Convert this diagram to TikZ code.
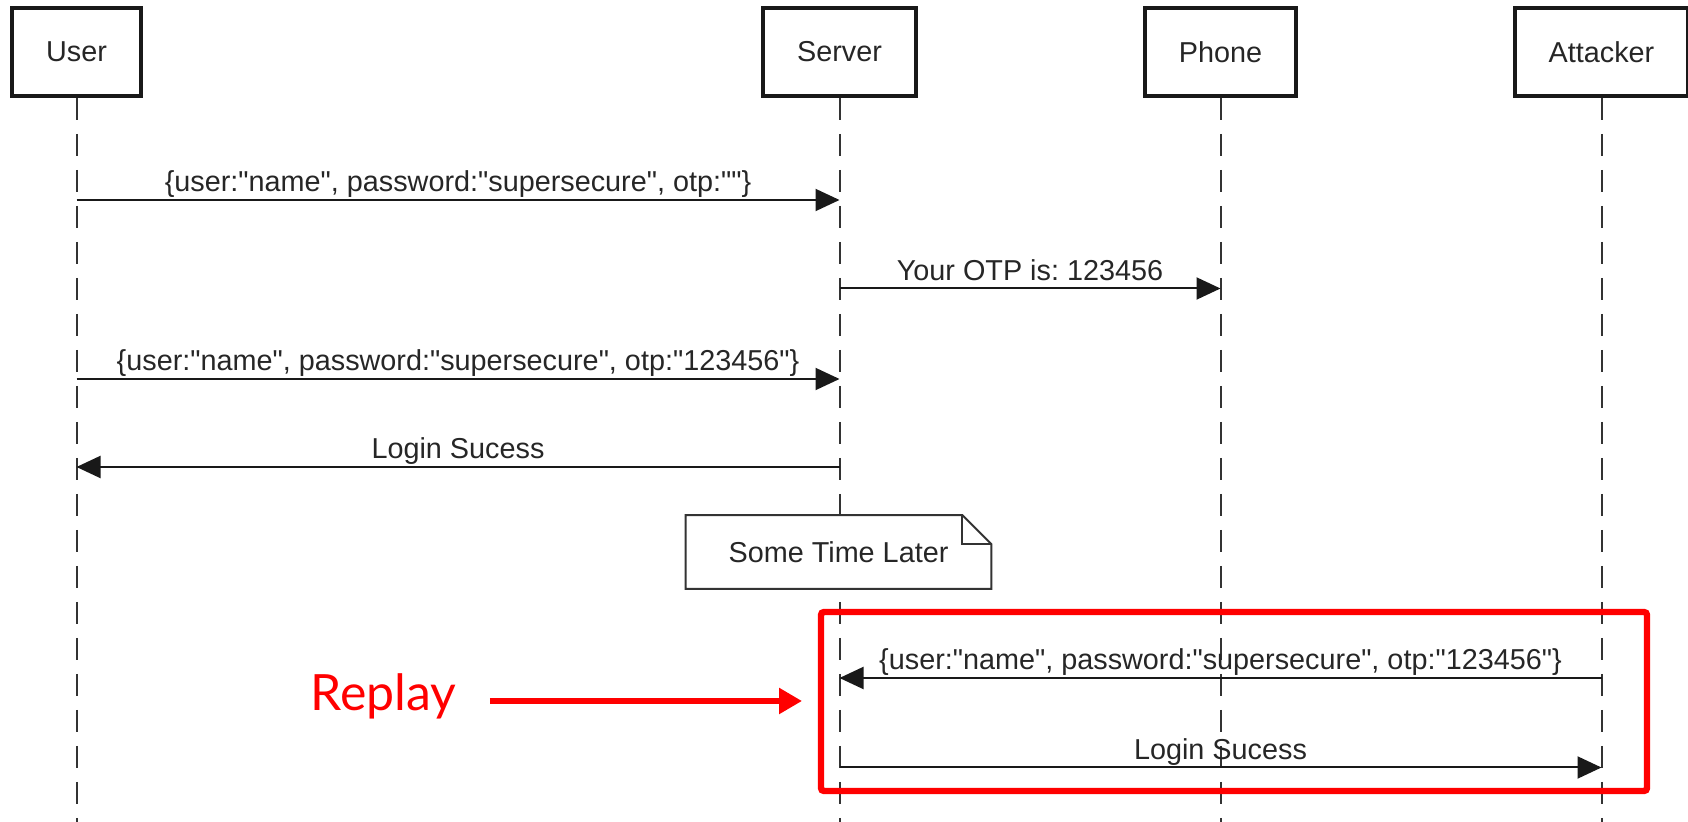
\documentclass[tikz,border=0pt]{standalone}
\usepackage{fontspec}
\setmainfont{Liberation Sans}[Ligatures=TeXOff]
\newfontfamily\replayfont{Lato}
\usepackage{tikz}
\usetikzlibrary{arrows.meta}
\frenchspacing

\begin{document}
\begin{tikzpicture}[x=0.5pt, y=-0.5pt, node distance=190.5pt,
		actor node/.style={rectangle,draw=black!90,line width=2pt,inner xsep=17pt,minimum height=44pt,text=black!85,font=\fontsize{14.4}{17}\selectfont},
		life line/.style={black!80,line width=1pt,dash pattern=on 11pt off 7pt},
		msg/.style={black!90,line width=1pt,-{Triangle[length=12pt,width=11pt]}},
		msg label/.style={midway,anchor=base,yshift=4pt,inner sep=0pt,text=black!85,font=\fontsize{14.4}{17}\selectfont},
		note node/.style={rectangle,fill=white,minimum width=152.5pt,minimum height=36.5pt,text=black!85,font=\fontsize{14.4}{17}\selectfont},
		replay box/.style={rectangle,draw=red,line width=3.2pt,rounded corners=1.5pt,minimum width=413pt,minimum height=89.5pt},
		replay text/.style={anchor=base west,inner sep=0pt,text=red,font=\replayfont\fontsize{25}{30}\selectfont}]
	
	\useasboundingbox (0,0) rectangle (1688,822);
	
	\node[actor node] (user) at (76.5,52) {User};
	\node[actor node] (server) [right of=user, node distance=381.5pt] {Server};
	\node[actor node] (phone) [right of=server] {Phone};
	\node[actor node] (attacker) [right of=phone] {Attacker};
	
	% life lines
	\foreach \a in {user,server,phone,attacker}
		\draw[life line] (\a.south) -- (\a.south |- 0,822);
	
	% login
	\draw[msg] (user |- 0,200) -- (server |- 0,200) node[msg label] {\{user:"name", password:"supersecure", otp:""\}};
	\draw[msg] (server |- 0,288.5) -- (phone |- 0,288.5) node[msg label] {Your OTP is: 123456};
	\draw[msg] (user |- 0,379) -- (server |- 0,379) node[msg label] {\{user:"name", password:"supersecure", otp:"123456"\}};
	\draw[msg] (server |- 0,467) -- (user |- 0,467) node[msg label] {Login Sucess};
	
	% note
	\node[note node] (later) at (838.5,552) {Some Time Later};
	\draw[black!80,line width=1pt] (later.south west) -- (later.north west) -- ([xshift=-14.5pt]later.north east)
		-- ([yshift=-14.5pt]later.north east) -- (later.south east) -- cycle;
	\draw[black!80,line width=1pt] ([xshift=-14.5pt]later.north east) |- ([yshift=-14.5pt]later.north east);
	
	% replay
	\draw[msg] (attacker |- 0,678) -- (server |- 0,678) node[msg label] {\{user:"name", password:"supersecure", otp:"123456"\}};
	\draw[msg] (server |- 0,767.5) -- (attacker |- 0,767.5) node[msg label] {Login Sucess};
	
	\node[replay box] (window) at (1234,701.5) {};
	\node[replay text] (replay) at (310,711) {Replay};
	\coordinate (rtip) at (802,701);
	\draw[red,line width=2.75pt,shorten <=16.5pt,-{Triangle[length=11.5pt,width=12.5pt]}] (rtip -| replay.east) -- (rtip);
	
\end{tikzpicture}
\end{document}
